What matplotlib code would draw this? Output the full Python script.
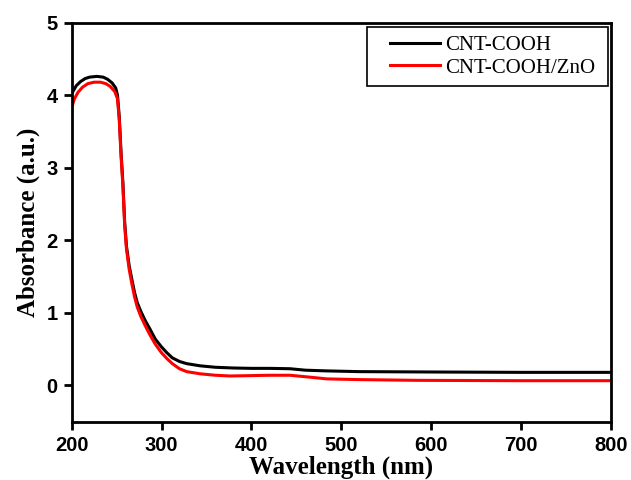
import matplotlib
matplotlib.use("Agg")
import matplotlib.pyplot as plt
from matplotlib.lines import Line2D
from matplotlib.legend_handler import HandlerLine2D

# UV-Vis absorbance spectra
wl_cooh = [200, 205, 210, 215, 220, 228, 235, 240, 245, 249, 251, 253, 255, 257,
           259, 261, 264, 267, 270, 273, 277, 282, 287, 293, 300, 306, 312, 320,
           328, 343, 360, 380, 400, 420, 443, 460, 484, 520, 600, 700, 800]
abs_cooh = [4.02, 4.13, 4.19, 4.23, 4.25, 4.26, 4.25, 4.22, 4.17, 4.10, 4.00, 3.70,
            3.20, 2.80, 2.25, 1.92, 1.65, 1.46, 1.28, 1.14, 1.02, 0.89, 0.78, 0.64,
            0.53, 0.45, 0.38, 0.33, 0.30, 0.27, 0.25, 0.24, 0.235, 0.235, 0.23,
            0.21, 0.20, 0.19, 0.185, 0.18, 0.18]

wl_zno = [200, 203, 207, 212, 218, 225, 232, 238, 243, 248, 251, 253, 255, 257,
          259, 261, 264, 267, 270, 273, 277, 282, 287, 293, 300, 306, 312, 320,
          328, 343, 360, 376, 400, 420, 443, 460, 484, 520, 584, 700, 800]
abs_zno = [3.83, 3.95, 4.04, 4.11, 4.16, 4.18, 4.18, 4.16, 4.12, 4.05, 3.95, 3.65,
           3.15, 2.75, 2.20, 1.88, 1.60, 1.40, 1.22, 1.08, 0.95, 0.82, 0.70, 0.57,
           0.45, 0.37, 0.30, 0.23, 0.19, 0.16, 0.14, 0.13, 0.135, 0.14, 0.14,
           0.12, 0.09, 0.08, 0.07, 0.065, 0.065]

labels = ["CNT-COOH", "CNT-COOH/ZnO"]
xticks = [200, 300, 400, 500, 600, 700, 800]
yticks = [0, 1, 2, 3, 4, 5]


class InsetLine(HandlerLine2D):
    # legend line that starts a bit in from the left of its handle box
    def __init__(self, inset, **kw):
        super().__init__(**kw)
        self.inset = inset

    def create_artists(self, legend, orig_handle, xdescent, ydescent,
                       width, height, fontsize, trans):
        d = self.inset * fontsize
        return super().create_artists(legend, orig_handle, xdescent - d, ydescent,
                                      width - d, height, fontsize, trans)


fig = plt.figure(figsize=(6.31, 4.8), dpi=100)
ax = fig.add_axes([0.1136, 0.1215, 0.8542, 0.8312])

ax.plot(wl_cooh, abs_cooh, color="black", lw=2.2, label=labels[0])
ax.plot(wl_zno, abs_zno, color="#ff0000", lw=2.2, label=labels[1])

ax.set_xlim(200, 800)
ax.set_ylim(-0.5, 5)
ax.set_xticks(xticks)
ax.set_yticks(yticks)

for s in ax.spines.values():
    s.set_linewidth(2)
ax.tick_params(direction="out", width=2, length=6, pad=4)
for t in ax.get_xticklabels() + ax.get_yticklabels():
    t.set_fontfamily("Liberation Sans")
    t.set_fontweight("bold")
    t.set_fontsize(14.5)

ax.set_xlabel("Wavelength (nm)", family="Liberation Serif", weight="bold",
              fontsize=18, labelpad=1)
ax.set_ylabel("Absorbance (a.u.)", family="Liberation Serif", weight="bold",
              fontsize=18, labelpad=5)

leg = ax.legend(loc="upper left", bbox_to_anchor=(0.548, 0.0, 0.447, 0.989),
                mode="expand", handler_map={Line2D: InsetLine(0.72)},
                prop={"family": "Liberation Serif", "size": 15},
                fancybox=False, edgecolor="black", framealpha=1,
                handlelength=3.12, handletextpad=0.24, borderpad=0.4,
                labelspacing=0.14, borderaxespad=0)
leg.get_frame().set_linewidth(1.2)

fig.savefig("out.png", dpi=100)
